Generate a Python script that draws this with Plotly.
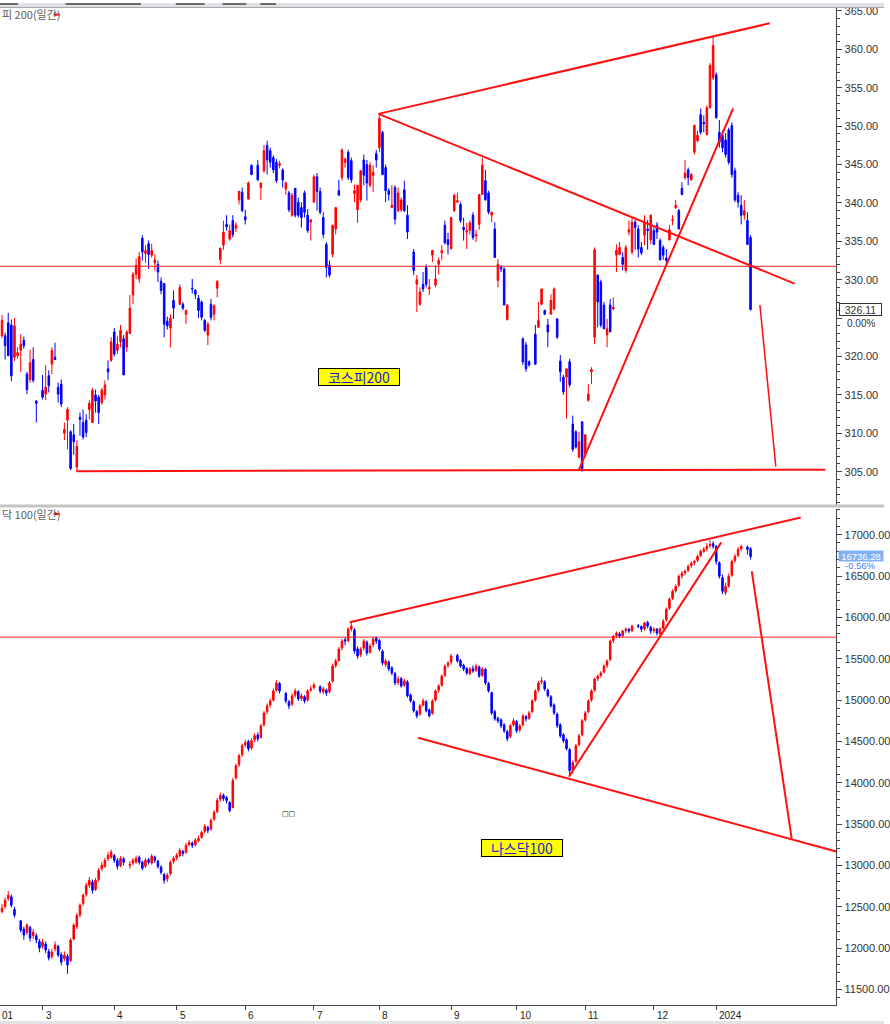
import plotly.graph_objects as go

# ---------------- KOSPI 200 daily (x = shared trading-day index, 0 = 2023-02-13) ----------------
k_rows = [
(0,322.7,325.4,322.4,324.7),(1,322.7,323.1,319.6,321.4),(2,324.4,325.7,320.1,320.1),(3,324.1,324.8,316.8,317.5),
(4,319.9,325.0,319.4,324.0),(5,320.1,321.2,319.7,320.5),(6,320.8,322.9,318.0,321.6),(7,322.1,322.6,321.0,321.4),
(8,317.7,318.0,315.1,315.7),(9,317.0,320.9,316.6,319.2),(10,319.6,321.2,316.6,316.9),(11,314.2,314.3,311.4,313.9),
(13,315.6,317.6,314.4,314.7),(14,315.1,318.9,314.3,316.0),(15,317.5,318.2,315.3,316.2),(16,319.0,321.2,317.7,320.8),
(17,319.9,321.8,319.6,319.6),(18,316.0,316.6,314.0,315.1),(19,316.4,317.0,313.4,313.8),(20,310.0,311.4,309.1,310.5),
(21,311.7,313.4,307.9,313.1),(22,310.2,310.4,305.2,305.4),(23,309.8,311.2,307.2,308.9),(24,305.6,309.1,305.0,308.3),
(25,312.1,312.7,309.7,311.8),(26,311.4,313.1,309.2,309.5),(27,311.7,312.5,309.5,310.1),(28,313.1,314.3,311.8,313.9),
(29,311.4,315.9,311.4,315.6),(30,315.0,315.7,312.7,314.2),(31,314.7,315.0,311.2,312.7),(32,314.0,315.9,313.7,315.6),
(33,315.0,316.9,314.4,316.3),(34,318.4,319.5,316.9,318.0),(35,319.5,322.5,319.3,321.9),(36,323.2,323.7,320.0,320.3),
(37,320.8,322.7,320.3,321.6),(38,321.9,324.1,321.2,323.4),(39,322.3,322.8,317.6,317.6),(40,321.2,323.4,320.6,323.2),
(41,323.0,328.0,323.0,326.3),(42,328.0,331.0,326.8,330.7),(43,330.7,332.8,330.1,331.9),(44,330.1,333.6,329.6,333.0),
(45,335.4,335.8,332.5,333.6),(46,333.4,334.5,332.2,333.8),(47,334.7,335.1,331.4,333.3),(48,333.2,334.7,332.9,333.8),
(49,332.2,333.3,331.2,332.6),(50,332.0,332.5,329.7,331.0),(51,329.8,330.3,328.1,328.6),(52,329.5,329.5,322.5,324.2),
(53,324.6,325.2,323.5,324.0),(54,323.7,325.5,321.2,325.0),(55,327.3,328.6,324.9,326.3),(57,326.8,329.4,326.7,329.0),
(58,326.8,327.1,326.0,326.3),(59,325.5,326.1,324.2,326.0),(61,328.9,330.1,328.2,328.8),(62,328.6,328.8,327.5,328.1),
(63,327.6,328.0,325.0,326.0),(64,327.1,327.3,324.7,325.1),(65,324.7,324.9,323.2,323.4),(66,322.8,324.5,321.5,324.2),
(67,326.8,327.5,324.7,325.1),(68,325.5,326.8,324.7,326.6),(69,328.9,329.9,327.7,329.8),(70,332.6,334.2,332.0,334.1),
(71,334.5,337.7,333.9,336.2),(72,337.2,338.4,336.4,336.9),(73,335.3,337.2,335.1,336.4),(74,337.7,338.4,335.5,335.9),
(75,336.7,337.5,336.2,337.1),(76,340.4,341.6,339.8,341.5),(77,341.4,342.0,338.8,339.0),(78,338.2,339.1,337.2,337.8),
(79,340.5,342.8,340.4,342.6),(80,344.9,345.0,343.6,343.7),(82,344.9,345.6,342.9,343.0),(83,342.0,342.6,340.4,342.6),
(84,344.2,347.5,343.9,346.8),(85,347.5,348.1,343.7,345.6),(86,346.8,347.2,344.6,345.3),(87,345.9,346.2,343.9,344.3),
(88,345.3,345.7,342.6,342.9),(89,344.9,345.5,344.5,345.1),(90,344.3,344.5,342.0,343.0),(91,341.8,342.8,341.1,342.6),
(92,341.3,341.6,338.8,339.1),(93,338.4,341.3,338.2,341.0),(94,341.9,341.9,338.1,338.4),(95,340.1,340.7,338.1,338.4),
(96,339.4,340.1,336.8,338.1),(97,341.3,341.6,338.1,338.8),(98,338.4,339.2,336.1,336.4),(99,337.5,337.8,335.1,337.8),
(100,340.1,343.7,340.1,343.4),(101,343.4,343.9,339.0,341.5),(102,341.5,342.0,338.5,338.8),(103,338.1,338.8,335.4,335.9),
(104,334.6,334.9,330.3,331.6),(105,331.9,332.5,330.3,330.6),(106,333.3,337.1,332.9,337.1),(107,336.6,339.4,335.9,339.4),
(108,341.6,343.0,341.0,341.0),(109,343.3,347.1,342.9,346.9),(110,345.3,345.9,344.6,345.7),(111,346.6,346.9,343.0,343.3),
(112,345.5,345.9,342.6,343.0),(113,341.2,342.4,340.1,341.6),(114,339.1,342.3,337.4,342.3),(115,340.4,344.2,340.1,344.2),
(116,345.6,346.3,342.3,343.6),(117,345.0,345.6,340.3,342.6),(118,342.3,345.3,342.0,344.9),(119,343.6,344.9,341.4,344.0),
(120,346.4,346.9,344.6,345.6),(121,347.2,351.4,346.6,351.0),(122,349.2,349.4,343.6,343.7),(123,344.6,345.0,340.1,341.6),
(124,341.6,341.9,340.3,341.1),(125,339.4,342.3,339.4,339.7),(126,342.0,342.3,337.2,337.9),(127,339.0,342.0,338.8,341.3),
(128,339.1,340.7,338.8,340.4),(129,341.7,342.9,338.8,339.0),(130,338.4,339.7,335.3,336.2),(132,333.6,334.0,330.6,331.2),
(133,329.4,330.6,325.8,330.0),(134,326.8,329.0,326.6,328.4),(135,329.4,331.0,328.4,328.8),(136,331.6,332.0,329.0,329.4),
(137,328.8,330.1,328.0,329.0),(138,333.2,333.9,332.3,333.8),(139,329.3,331.9,329.0,330.1),(140,332.0,332.9,330.7,332.5),
(141,333.5,334.5,332.6,333.8),(142,337.1,337.7,334.6,334.8),(143,335.2,336.1,333.3,334.6),(144,334.0,338.1,334.0,338.1),
(145,339.0,341.2,338.8,341.0),(146,340.1,341.3,340.1,340.3),(147,339.8,340.1,337.4,337.7),(148,336.8,338.1,335.1,336.5),
(149,336.2,337.4,334.0,336.4),(150,336.4,337.7,335.9,337.4),(151,338.4,338.8,335.2,335.5),(152,335.7,336.5,334.9,335.9),
(153,337.2,341.1,336.5,341.1),(154,341.1,345.9,341.1,344.9),(155,342.9,344.3,340.3,340.4),(156,341.3,341.6,338.5,338.8),
(157,338.4,338.8,337.5,338.8),(158,336.6,337.5,332.9,332.9),(159,329.9,332.7,329.0,332.0),(160,331.6,331.9,331.0,331.4),
(161,331.4,331.6,326.7,326.7),(162,324.8,326.8,324.7,326.7),(167,322.3,322.5,318.9,319.3),(168,321.5,321.9,318.0,318.4),
(169,319.3,319.5,318.7,318.9),(171,322.9,324.1,318.9,319.0),(172,323.8,327.1,323.8,324.7),(173,326.8,328.8,326.7,328.8),
(174,326.0,326.1,325.4,325.5),(175,324.1,324.9,321.2,323.2),(176,325.5,328.1,325.5,327.3),(177,326.2,329.0,326.0,328.8),
(178,324.9,325.0,322.3,322.5),(179,319.4,320.2,316.7,318.0),(180,317.3,317.6,315.0,315.4),(181,317.3,318.4,311.9,318.4),
(182,319.3,319.7,316.0,316.3),(183,311.2,312.3,307.6,307.9),(184,310.2,310.4,308.0,308.2),(185,306.9,310.2,306.7,308.9),
(186,311.5,311.6,305.0,305.4),(187,307.3,309.9,306.9,309.8),(188,314.3,316.4,314.1,315.1),(189,318.0,318.6,316.4,318.3),
(190,322.5,334.2,321.6,333.9),(191,330.6,330.7,323.8,327.1),(192,329.7,330.0,323.8,324.1),(193,326.7,327.1,323.6,323.6),
(194,322.8,324.9,321.2,323.6),(195,326.7,327.5,323.2,323.2),(196,326.2,327.7,326.0,326.4),(197,333.2,334.6,331.0,333.8),
(198,333.3,334.9,333.2,334.2),(199,332.9,333.6,331.2,332.0),(200,331.2,334.5,330.9,334.2),(201,336.2,337.7,335.8,336.5),
(202,333.6,338.1,333.3,337.5),(203,337.5,337.8,333.9,336.8),(204,336.6,337.1,332.9,334.0),(205,334.2,334.9,333.2,333.5),
(206,335.8,338.4,334.5,337.5),(207,336.6,337.8,333.9,336.4),(208,335.2,338.5,334.6,338.4),(209,336.4,336.8,334.5,334.6),
(210,337.1,337.5,335.3,336.2),(211,335.1,335.4,332.5,332.6),(212,334.2,334.5,332.6,333.2),(213,332.8,334.0,331.9,332.5),
(214,335.2,337.1,335.1,336.5),(215,337.7,338.4,337.1,337.8),(216,339.4,340.4,339.2,339.7),(217,339.0,339.2,336.6,336.6),
(218,341.9,342.7,341.0,341.1),(219,343.3,345.6,343.0,343.9),(220,344.3,344.6,342.3,343.3),(221,343.0,343.9,342.9,343.7),
(222,346.6,350.2,346.3,350.1),(223,348.1,349.4,347.9,348.8),(224,351.5,352.3,348.9,349.2),(225,350.5,351.4,349.2,350.3),
(226,348.9,352.7,348.8,352.4),(227,352.4,358.2,352.3,357.9),(228,356.3,361.8,356.0,360.5),(229,356.7,357.0,351.0,351.1),
(230,349.2,350.8,347.2,347.9),(231,348.8,349.4,346.6,347.2),(232,348.2,349.1,345.9,346.3),(233,349.5,349.8,345.0,345.3),
(234,350.1,350.5,343.3,343.7),(235,344.2,344.6,340.1,340.4),(236,341.0,341.4,339.4,340.1),(237,339.7,341.0,337.2,338.4),
(238,338.4,340.4,337.8,339.0),(239,337.7,338.8,334.5,334.6),(240,335.5,335.8,326.0,326.11),
]
k_x = [r[0] for r in k_rows]
k_open = [r[1] for r in k_rows]
k_high = [r[2] for r in k_rows]
k_low = [r[3] for r in k_rows]
k_close = [r[4] for r in k_rows]

# ---------------- NASDAQ 100 daily (same x index) ----------------
n_rows = [
(0,12440,12530,12420,12483),(1,12500,12610,12480,12579),(2,12600,12690,12570,12640),(3,12620,12650,12490,12519),
(4,12470,12500,12370,12398),(6,12330,12340,12190,12218),(7,12230,12260,12100,12157),(8,12190,12300,12160,12278),
(9,12250,12270,12080,12121),(10,12150,12230,12110,12193),(11,12150,12180,12060,12097),(12,12080,12110,11950,12000),
(13,12020,12110,11990,12073),(14,12050,12080,11940,11977),(15,11960,11990,11850,11880),(16,11900,11990,11870,11952),
(17,11990,12080,11960,12037),(18,12020,12040,11890,11916),(19,11920,11950,11790,11832),(20,11870,11960,11840,11916),
(21,11900,11930,11690,11796),(22,11850,12120,11830,12097),(23,12110,12300,12090,12278),(24,12260,12420,12230,12398),
(25,12400,12540,12370,12519),(26,12540,12660,12510,12640),(27,12650,12790,12620,12760),(28,12760,12860,12730,12820),
(29,12800,12830,12660,12700),(30,12710,12850,12690,12820),(31,12830,12970,12800,12941),(32,12960,13040,12930,13001),
(33,12990,13090,12970,13062),(34,13080,13160,13050,13122),(35,13100,13190,13080,13158),(36,13120,13140,13030,13062),
(37,13060,13090,12950,12989),(38,13000,13110,12980,13086),(39,13080,13100,13000,13038),(41,13000,13050,12960,13013),
(42,13030,13090,13000,13062),(43,13040,13120,13020,13086),(44,13100,13120,13010,13038),(45,13040,13060,12940,12965),
(46,12990,13090,12970,13062),(47,13070,13090,13010,13038),(48,13030,13140,13010,13110),(49,13100,13120,13030,13062),
(50,13050,13070,12960,12989),(51,12980,13000,12890,12917),(52,12890,12910,12780,12820),(53,12840,12910,12800,12880),
(54,12900,13060,12880,13038),(55,13050,13110,13020,13086),(56,13090,13150,13060,13122),(57,13120,13210,13100,13182),
(58,13170,13190,13110,13146),(59,13160,13270,13140,13243),(60,13250,13310,13230,13279),(61,13270,13290,13210,13243),
(62,13250,13330,13230,13303),(63,13300,13360,13280,13327),(64,13340,13420,13320,13399),(65,13410,13500,13390,13472),
(66,13460,13480,13390,13423),(67,13440,13570,13420,13544),(68,13560,13670,13540,13640),(69,13650,13820,13630,13785),
(70,13800,13880,13770,13845),(71,13850,13870,13780,13809),(72,13820,13840,13750,13785),(73,13760,13780,13640,13664),
(74,13700,14060,13690,14026),(75,14060,14230,14040,14206),(76,14220,14350,14190,14327),(77,14340,14470,14310,14448),
(78,14460,14520,14430,14484),(79,14500,14520,14380,14411),(80,14420,14540,14400,14508),(81,14520,14600,14490,14568),
(82,14580,14610,14500,14532),(83,14550,14710,14530,14689),(84,14700,14870,14680,14845),(85,14860,14960,14830,14930),
(86,14940,15020,14910,14990),(87,15000,15140,14980,15111),(88,15120,15240,15100,15207),(89,15200,15220,15080,15111),
(91,15080,15100,14960,14990),(92,14980,15000,14890,14930),(93,14950,15080,14930,15051),(94,15060,15140,15030,15111),
(95,15100,15120,14990,15014),(96,15020,15080,14990,15051),(97,15040,15060,14960,14990),(98,15000,15130,14980,15111),
(99,15120,15170,15100,15135),(100,15150,15210,15130,15183),(102,15160,15180,15080,15111),(103,15100,15160,15070,15135),
(104,15120,15140,15050,15087),(105,15100,15230,15080,15207),(106,15230,15440,15210,15411),(107,15420,15500,15390,15472),
(108,15480,15640,15460,15617),(109,15630,15740,15600,15713),(110,15730,15760,15660,15713),(111,15720,15880,15700,15858),
(112,15860,15940,15830,15894),(113,15850,15870,15560,15593),(114,15620,15650,15500,15532),(115,15550,15640,15520,15617),
(116,15630,15740,15600,15713),(117,15700,15720,15540,15569),(118,15580,15680,15560,15653),(119,15670,15760,15640,15737),
(120,15750,15770,15680,15713),(121,15720,15740,15590,15617),(122,15590,15610,15420,15448),(123,15430,15500,15400,15472),
(124,15460,15480,15350,15376),(125,15390,15410,15300,15328),(126,15320,15340,15180,15207),(127,15210,15290,15180,15255),
(128,15260,15280,15150,15170),(129,15180,15260,15160,15231),(130,15220,15240,15030,15051),(131,15060,15080,14970,14990),
(132,14980,15000,14850,14870),(133,14860,14880,14780,14809),(134,14830,14950,14810,14930),(135,14940,15020,14920,14990),
(136,14980,15000,14850,14870),(137,14880,14900,14790,14809),(138,14840,15010,14820,14990),(139,15000,15130,14980,15111),
(140,15120,15190,15090,15170),(141,15180,15310,15160,15290),(142,15300,15430,15280,15411),(143,15420,15470,15390,15448),
(144,15460,15560,15430,15532),(146,15540,15560,15450,15472),(147,15480,15500,15390,15411),(148,15420,15440,15350,15376),
(149,15380,15400,15300,15328),(150,15320,15400,15300,15376),(151,15380,15420,15330,15352),(152,15360,15440,15340,15411),
(153,15400,15420,15270,15290),(154,15300,15400,15280,15376),(155,15370,15390,15180,15207),(156,15200,15220,15090,15111),
(157,15090,15100,14820,14845),(158,14860,14880,14750,14773),(159,14780,14800,14720,14749),(160,14760,14780,14660,14689),
(161,14700,14720,14600,14628),(162,14620,14640,14500,14532),(163,14560,14710,14540,14689),(164,14700,14780,14680,14749),
(165,14740,14760,14600,14628),(166,14640,14710,14610,14689),(167,14700,14830,14680,14809),(168,14800,14820,14740,14773),
(169,14780,14870,14760,14845),(170,14860,15010,14840,14990),(171,15000,15130,14980,15111),(172,15120,15230,15100,15207),
(173,15220,15280,15190,15231),(174,15220,15240,15110,15135),(175,15120,15140,15030,15051),(176,15040,15060,14910,14930),
(177,14940,14960,14820,14845),(178,14830,14850,14660,14689),(179,14700,14720,14540,14568),(180,14580,14600,14480,14508),
(181,14520,14540,14390,14411),(182,14400,14420,14070,14146),(183,14150,14270,14110,14243),(184,14260,14470,14240,14448),
(185,14460,14590,14440,14568),(186,14580,14770,14560,14749),(187,14760,14870,14740,14845),(188,14860,15010,14840,14990),
(189,15000,15130,14980,15111),(190,15120,15270,15100,15255),(191,15260,15310,15230,15290),(192,15300,15350,15270,15328),
(193,15340,15430,15320,15411),(194,15420,15490,15390,15472),(195,15490,15730,15470,15713),(196,15720,15790,15690,15774),
(197,15780,15830,15750,15810),(198,15800,15820,15750,15774),(199,15780,15850,15760,15834),(200,15840,15880,15810,15858),
(201,15860,15870,15810,15834),(202,15840,15910,15820,15894),(204,15900,15920,15870,15894),(205,15890,15900,15820,15858),
(206,15860,15950,15840,15930),(207,15940,15960,15870,15894),(208,15880,15900,15800,15834),(209,15840,15880,15810,15858),
(210,15860,15870,15780,15810),(211,15800,15880,15780,15858),(212,15870,15980,15850,15954),(213,15970,16120,15950,16099),
(214,16110,16240,16090,16220),(215,16230,16340,16210,16316),(216,16320,16400,16300,16376),(217,16390,16520,16370,16497),
(218,16500,16560,16470,16533),(219,16540,16580,16510,16557),(220,16570,16640,16550,16618),(221,16630,16680,16600,16654),
(222,16660,16700,16630,16678),(223,16690,16760,16670,16738),(224,16750,16820,16730,16799),(225,16800,16850,16780,16823),
(226,16830,16900,16800,16859),(227,16870,16940,16840,16883),(228,16890,16920,16830,16859),(229,16860,16870,16640,16678),
(230,16660,16680,16470,16497),(231,16480,16520,16280,16316),(232,16300,16420,16270,16376),(233,16380,16530,16360,16497),
(234,16510,16700,16490,16678),(235,16690,16770,16660,16738),(236,16750,16850,16730,16823),(237,16830,16880,16800,16859),
(239,16850,16870,16760,16823),(240,16830,16850,16700,16736.28),
]
n_x = [r[0] for r in n_rows]
n_open = [r[1] for r in n_rows]
n_high = [r[2] for r in n_rows]
n_low = [r[3] for r in n_rows]
n_close = [r[4] for r in n_rows]

# month ticks (index of first trading day of each month)
month_idx = [13, 36, 56, 78, 100, 121, 144, 165, 187, 209, 229]
month_lbl = ["3", "4", "5", "6", "7", "8", "9", "10", "11", "12", "2024"]

# price-axis ticks
k_ticks = [305, 310, 315, 320, 325, 330, 335, 340, 345, 350, 355, 360, 365]
k_tick_text = ["305.00", "310.00", "315.00", "320.00", "", "330.00", "335.00", "340.00", "345.00",
               "350.00", "355.00", "360.00", "365.00"]
n_ticks = [11500, 12000, 12500, 13000, 13500, 14000, 14500, 15000, 15500, 16000, 16500, 17000]
n_tick_text = ["11500.00", "12000.00", "12500.00", "13000.00", "13500.00", "14000.00", "14500.00",
               "15000.00", "15500.00", "16000.00", "16500.00", "17000.00"]

# trend lines drawn on the chart: (x0, y0, x1, y1, width)
k_lines = [
    (120.7, 351.6, 246.2, 363.4, 2),
    (120.7, 351.6, 254.1, 329.5, 2),
    (23.9, 305.07, 264.0, 305.26, 2),
    (185.0, 305.26, 234.4, 352.3, 2),
    (243.0, 326.7, 248.1, 305.65, 1.5),
]
k_hline = 331.75
n_lines = [
    (111.5, 15942, 256.1, 17209, 2),
    (181.8, 14076, 230.6, 16907, 2),
    (133.4, 14544, 267.5, 13169, 2),
    (240.4, 16557, 253.2, 13325, 2),
]
n_hline = 15761

W, H = 890, 1024
def py(p):
    return 1 - p / H
def pxx(p):
    return p / W

X_RANGE = [-0.64, 267.5]
fig = go.Figure()
fig.add_trace(go.Candlestick(x=k_x, open=k_open, high=k_high, low=k_low, close=k_close,
                             xaxis="x", yaxis="y",
                             increasing=dict(line=dict(color="#ff0000", width=1), fillcolor="#ff0000"),
                             decreasing=dict(line=dict(color="#0000ff", width=1), fillcolor="#0000ff"),
                             whiskerwidth=0, hoverinfo="skip"))
fig.add_trace(go.Candlestick(x=n_x, open=n_open, high=n_high, low=n_low, close=n_close,
                             xaxis="x2", yaxis="y2",
                             increasing=dict(line=dict(color="#ff0000", width=1), fillcolor="#ff0000"),
                             decreasing=dict(line=dict(color="#0000ff", width=1), fillcolor="#0000ff"),
                             whiskerwidth=0, hoverinfo="skip"))

shapes = []
for (x0, y0, x1, y1, w) in k_lines:
    shapes.append(dict(type="line", xref="x", yref="y", x0=x0, y0=y0, x1=x1, y1=y1,
                       line=dict(color="#ff1010", width=w)))
shapes.append(dict(type="line", xref="paper", yref="y", x0=0, x1=pxx(842), y0=k_hline, y1=k_hline,
                   line=dict(color="#ff2020", width=1)))
for (x0, y0, x1, y1, w) in n_lines:
    shapes.append(dict(type="line", xref="x2", yref="y2", x0=x0, y0=y0, x1=x1, y1=y1,
                       line=dict(color="#ff1010", width=w)))
shapes.append(dict(type="line", xref="paper", yref="y2", x0=0, x1=pxx(842), y0=n_hline, y1=n_hline,
                   line=dict(color="#ff2020", width=1)))
# frame decorations
shapes.append(dict(type="rect", xref="paper", yref="paper", x0=0, x1=1, y0=py(4), y1=1,
                   fillcolor="#dfe2e6", line=dict(width=0), layer="below"))
for a, b in [(0, 18), (66, 142), (177, 206), (224, 248), (262, 278)]:
    shapes.append(dict(type="rect", xref="paper", yref="paper", x0=pxx(a), x1=pxx(b), y0=py(2), y1=1,
                       fillcolor="#6a6a6a", line=dict(width=0)))
shapes.append(dict(type="line", xref="paper", yref="paper", x0=0, x1=1, y0=py(4.5), y1=py(4.5),
                   line=dict(color="#a8a8a8", width=1)))
shapes.append(dict(type="rect", xref="paper", yref="paper", x0=0, x1=1, y0=py(506), y1=py(503),
                   fillcolor="#c4c4c4", line=dict(width=0)))
shapes.append(dict(type="rect", xref="paper", yref="paper", x0=0, x1=1, y0=0, y1=py(1021),
                   fillcolor="#e4e4e4", line=dict(width=0)))
# title dashes
for yy in (11.7, 512.5):
    shapes.append(dict(type="line", xref="paper", yref="paper", x0=pxx(54), x1=pxx(60), y0=py(yy), y1=py(yy),
                       line=dict(color="#ff0000", width=2)))

KFONT = "Noto Sans CJK KR"
LFONT = "Liberation Sans"
ann = []
ann.append(dict(text="피 200(일간)", x=0, y=py(11.5), xref="paper", yref="paper", xanchor="left", yanchor="middle",
                showarrow=False, font=dict(family=KFONT, size=11, color="#606060")))
ann.append(dict(text="닥 100(일간)", x=0, y=py(512.5), xref="paper", yref="paper", xanchor="left", yanchor="middle",
                showarrow=False, font=dict(family=KFONT, size=11, color="#606060")))
ann.append(dict(text="코스피200", x=pxx(361.5), y=py(375.5), xref="paper", yref="paper", showarrow=False,
                xanchor="center", yanchor="middle", width=80, height=16,
                bgcolor="#ffff00", bordercolor="#000000", borderwidth=1, borderpad=0,
                font=dict(family=KFONT, size=14, color="#1a1ad6")))
ann.append(dict(text="나스닥100", x=pxx(526), y=py(847.5), xref="paper", yref="paper", showarrow=False,
                xanchor="center", yanchor="middle", width=80, height=16,
                bgcolor="#ffff00", bordercolor="#000000", borderwidth=1, borderpad=0,
                font=dict(family=KFONT, size=14, color="#1a1ad6")))
ann.append(dict(text="□□", x=pxx(290), y=py(813), xref="paper", yref="paper", showarrow=False,
                xanchor="center", yanchor="middle",
                font=dict(family="DejaVu Sans", size=7, color="#000000")))
# last value labels
ann.append(dict(text="326.11", x=pxx(866.5), y=k_close[-1], xref="paper", yref="y", showarrow=False,
                xanchor="center", yanchor="middle",
                bgcolor="#ffffff", bordercolor="#333333", borderwidth=1, borderpad=0, width=41, height=11,
                font=dict(family=LFONT, size=10.5, color="#333333")))
ann.append(dict(text="0.00%", x=pxx(866.5), y=py(321), xref="paper", yref="paper", showarrow=False,
                xanchor="center", yanchor="middle",
                font=dict(family=LFONT, size=10, color="#333333")))
ann.append(dict(text="16736.28", x=pxx(866.5), y=py(554.5), xref="paper", yref="paper", showarrow=False,
                xanchor="center", yanchor="middle",
                bgcolor="#82b0f4", borderpad=0, width=44, height=10,
                font=dict(family=LFONT, size=9.5, color="#ffffff")))
ann.append(dict(text="-0.56%", x=pxx(866.5), y=py(564.5), xref="paper", yref="paper", showarrow=False,
                xanchor="center", yanchor="middle", height=9,
                font=dict(family=LFONT, size=9.5, color="#3d7ff0")))
# month labels (left aligned right of tick)
ann.append(dict(text="01", x=0, y=py(1015), xref="paper", yref="paper", xanchor="left", yanchor="middle",
                showarrow=False, font=dict(family=LFONT, size=10, color="#222222")))
for mi, ml in zip(month_idx, month_lbl):
    ann.append(dict(text=ml, x=mi, y=py(1015), xref="x2", yref="paper", xanchor="left", yanchor="middle",
                    xshift=1, showarrow=False, font=dict(family=LFONT, size=10, color="#222222")))

yfont = dict(family=LFONT, size=11, color="#333333")
fig.update_layout(
    width=W, height=H, margin=dict(l=0, r=0, t=0, b=0),
    paper_bgcolor="white", plot_bgcolor="white", showlegend=False, hovermode=False,
    shapes=shapes, annotations=ann,
    xaxis=dict(domain=[0, pxx(842)], range=X_RANGE, anchor="y", visible=False,
               rangeslider=dict(visible=False), fixedrange=True),
    yaxis=dict(domain=[py(503), py(5)], range=[300.72, 365.39], anchor="x", side="right",
               showgrid=False, zeroline=False, showline=True, linecolor="#444444", linewidth=1,
               ticks="outside", ticklen=5, tickcolor="#444444", tickmode="array",
               tickvals=k_ticks, ticktext=k_tick_text, tickfont=yfont,
               minor=dict(ticks="outside", ticklen=3, tickcolor="#444444", dtick=1, tick0=305)),
    xaxis2=dict(domain=[0, pxx(842)], range=X_RANGE, anchor="y2", showgrid=False, zeroline=False,
                showline=True, linecolor="#444444", linewidth=1, ticks="outside", ticklen=4,
                tickcolor="#444444", tickvals=month_idx, showticklabels=False,
                rangeslider=dict(visible=False), fixedrange=True),
    yaxis2=dict(domain=[py(1005), py(507)], range=[11311, 17317], anchor="x2", side="right",
                showgrid=False, zeroline=False, showline=True, linecolor="#444444", linewidth=1,
                ticks="outside", ticklen=5, tickcolor="#444444", tickmode="array",
                tickvals=n_ticks, ticktext=n_tick_text, tickfont=yfont,
                minor=dict(ticks="outside", ticklen=3, tickcolor="#444444", dtick=100, tick0=11500)),
)
fig.write_html("out.html")
